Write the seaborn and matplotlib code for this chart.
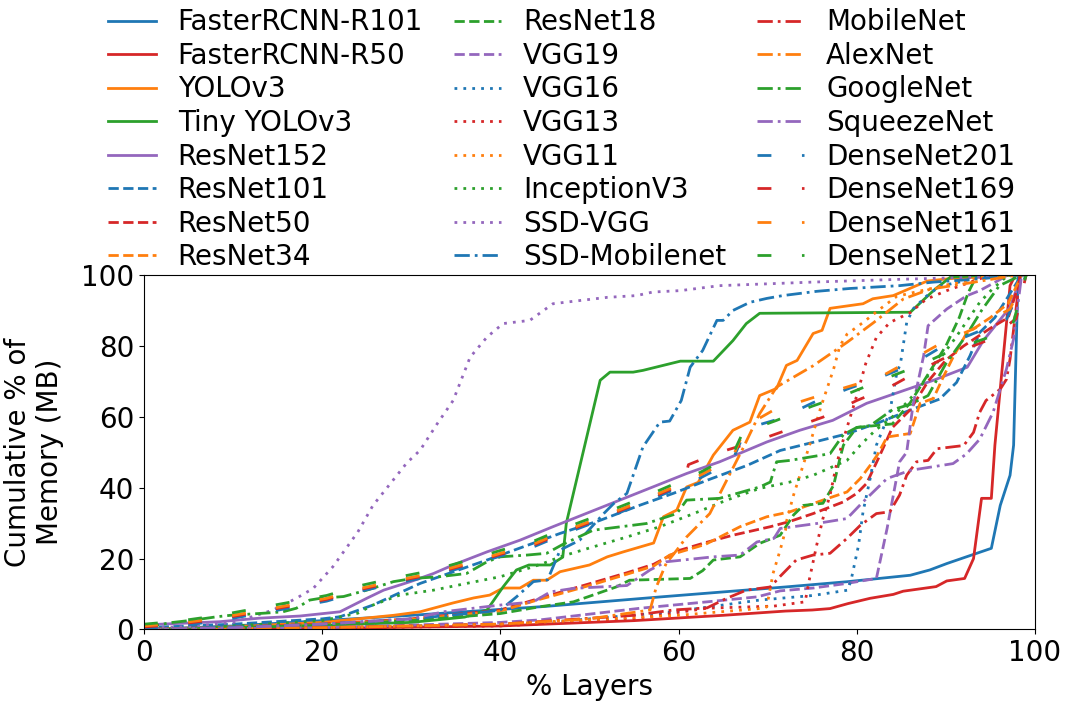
import matplotlib
matplotlib.use("Agg")
import matplotlib.pyplot as plt
import pandas as pd
import seaborn as sns

# ---------------- data (x = % layers, y = cumulative % of memory) ----------------
models = ["FasterRCNN-R101", "FasterRCNN-R50", "YOLOv3", "Tiny YOLOv3", "ResNet152",
          "ResNet101", "ResNet50", "ResNet34", "ResNet18", "VGG19",
          "VGG16", "VGG13", "VGG11", "InceptionV3", "SSD-VGG",
          "SSD-Mobilenet", "MobileNet", "AlexNet", "GoogleNet", "SqueezeNet",
          "DenseNet201", "DenseNet169", "DenseNet161", "DenseNet121"]

frcnn_r101 = [(0, 0), (10, 1), (20, 2.5), (30, 4), (45, 6.5), (58, 9.2), (72, 12), (79, 13.5),
              (86, 15.3), (88.2, 16.8), (90.1, 18.6), (92.3, 20.5), (95.1, 22.9), (96.1, 35),
              (97.2, 43.5), (97.6, 52), (98.1, 100)]
frcnn_r50 = [(0, 0), (20, 0.3), (40, 1), (55, 2.5), (65, 4), (72, 5.2), (75, 5.5), (77, 5.9),
             (79, 7.3), (81.5, 8.8), (84.1, 9.9), (85.2, 10.8), (88.9, 12.1), (90.1, 13.7),
             (92.1, 14.4), (93.1, 20), (94, 37), (95.1, 37), (95.5, 52), (97.2, 97), (97.8, 100)]
yolov3 = [(0, 0), (10, 0.8), (20, 2), (28, 4), (31, 5), (34.7, 7.5), (37, 8.9), (38.8, 9.7),
          (40.3, 11.7), (42.2, 11.7), (43.7, 13.9), (45.2, 13.9), (46.7, 16.3), (50, 18.2),
          (52, 20.5), (53.8, 21.9), (55.7, 23.3), (57.2, 24.4), (58.3, 31.8), (59.8, 33.7),
          (60.9, 40.2), (62.2, 41.5), (63.9, 49.2), (66.1, 56.2), (68, 58.5), (69.1, 66),
          (71, 68), (72.1, 74.5), (73.3, 75.9), (75.1, 83.5), (76.1, 84.4), (77, 90.6),
          (80.7, 91.9), (81.8, 93.3), (84.1, 94.2), (87.9, 98.3), (90.5, 99), (98, 100)]
tiny_yolov3 = [(0, 0), (10, 0.5), (20, 1.2), (30, 2), (36, 3.5), (38.5, 5.5), (40.3, 12),
               (41.8, 16.8), (43.2, 18.2), (45.6, 18.2), (47, 20.4), (47.4, 30), (51.2, 70.3),
               (52.3, 72.6), (54.9, 72.6), (56, 73.1), (60.2, 75.7), (63.9, 75.7), (66.1, 81.5),
               (67.6, 86.3), (69.1, 89.2), (86, 89.5), (88.6, 95.6), (90.5, 99.4), (95, 100),
               (99, 100)]
resnet152 = [(0, 1.3), (8.5, 2.2), (13, 3.2), (17.5, 3.8), (22, 5), (25, 8.8), (26.9, 11.1),
             (29.9, 13.5), (32.5, 15.8), (34.7, 18.2), (38.5, 21.9), (42.2, 25.2), (45.9, 29),
             (49.7, 32.8), (53.4, 36.5), (57.1, 40.2), (60.9, 44), (64.6, 47.3), (69.9, 52.9),
             (73.6, 56.2), (77.3, 59), (81.1, 63.8), (84.8, 67), (88.6, 70.3), (92.4, 74),
             (94.2, 81.5), (97.2, 90.9), (98.5, 100)]
resnet101 = [(0, 0.5), (10, 1.5), (20, 3), (22, 3.6), (25.7, 6.9), (31, 13), (38.5, 19.6),
             (46.7, 27.1), (51.2, 30.8), (55.7, 35.1), (59.4, 38.4), (63.2, 42.1), (67.7, 46.3),
             (71.4, 50.5), (75.1, 52.8), (78.9, 55.2), (82.6, 58.5), (86.3, 62.2), (89.3, 65),
             (91.2, 69.7), (92.7, 77.2), (93.8, 83.8), (95.5, 88), (98.5, 100)]
resnet50 = [(0, 0), (10, 0.7), (20, 1.5), (30, 3), (40, 5.5), (44.4, 8.8), (46.3, 10.2),
            (50.4, 13.2), (54.2, 16), (57.2, 18.4), (60.2, 22.4), (63, 24.5), (66.1, 26.6),
            (70.3, 29), (72.5, 30.5), (75.1, 32.7), (78.5, 36), (80, 38.4), (81.1, 41.2),
            (82.6, 49.2), (84, 57), (86, 62), (88, 70), (90, 76), (92, 80), (95, 85), (97, 88),
            (98.5, 100)]
resnet34 = [(0, 0), (10, 0.6), (20, 1.3), (30, 2.8), (40, 5.2), (44.4, 8.5), (46.3, 9.8),
            (50.4, 12.7), (54.2, 15.6), (57.2, 17.9), (59, 21), (63, 24), (66.9, 29),
            (69.9, 31.8), (72.5, 33.2), (76.2, 36.5), (78.9, 38.8), (80.4, 42.6), (81.5, 46.3),
            (82.3, 49.2), (83.4, 54.3), (86, 55.3), (87.1, 63.8), (88.6, 65.2), (89.7, 71.2),
            (90.8, 76.8), (92.3, 83.5), (95, 88), (97, 92), (98.5, 100)]
resnet18 = [(0, 0), (10, 0.5), (20, 1.2), (30, 2.5), (40, 4.5), (44.4, 6.4), (48.2, 7.8),
            (53, 12), (54.5, 13.9), (61.3, 14.4), (62.7, 16.6), (63.9, 19.6), (66.9, 20.5),
            (69.1, 24.3), (71.4, 26.6), (72.9, 32.3), (74, 35), (76.2, 35.6), (77.4, 40.7),
            (78.1, 48.2), (78.5, 52), (80, 57), (84, 58), (86, 64), (88, 72), (90, 80),
            (91.5, 88), (92.5, 95), (93.5, 100), (99, 100)]
vgg19 = [(0, 0), (20, 0.5), (40, 2), (44.4, 2.7), (55.7, 6), (63.2, 7.8), (68.8, 9.2),
         (71.4, 10.9), (75.1, 11.7), (78.9, 13), (82.2, 14.4), (83.4, 28.5), (84.1, 37.9),
         (84.8, 47.3), (85.6, 50), (86.3, 63.2), (87.5, 77.2), (88, 85.7), (90.1, 90.4),
         (92.3, 94.1), (93.8, 95.6), (97, 100)]
vgg16 = [(0, 0), (20, 0.5), (40, 1.5), (44.4, 1.8), (59.4, 5), (69.1, 8.3), (71.4, 8.8),
         (75.1, 9.6), (79, 11.1), (79.4, 14.4), (80.2, 23.8), (80.7, 33.2), (81.5, 42.6),
         (82.2, 52), (83.7, 61.3), (84.5, 72.5), (84.9, 75), (85.6, 86.6), (86.3, 90.4),
         (87.8, 94), (89.3, 96.8), (95, 100)]
vgg13 = [(0, 0), (20, 0.4), (40, 1), (55, 3), (63.2, 6), (70.7, 6.6), (74.2, 7.8), (74.7, 14.4),
         (75.5, 23.8), (76.2, 31.3), (77, 37.9), (77.7, 46.3), (78.3, 52), (80, 66), (81, 75),
         (82.2, 82.4), (83.7, 86.6), (86, 89.4), (87.8, 93.2), (90.1, 95.6), (95, 100)]
vgg11 = [(0, 0), (20, 0.5), (40, 1.5), (60, 4), (69.5, 6), (69.9, 6.4), (70.6, 15.8),
         (71.4, 22.4), (72, 28), (72.1, 30.4), (72.9, 37.9), (74.7, 52), (76, 63), (77.4, 73.5),
         (78.1, 80), (78.9, 83.3), (80.7, 86.6), (82.6, 90.4), (84.5, 94), (95, 100)]
inception_v3 = [(0, 0), (10, 1), (20, 2.5), (24, 4.6), (25.7, 6.9), (28.7, 9.7), (32.5, 11.1),
                (36.2, 13), (40, 14.9), (43.7, 17.7), (45.3, 19.1), (46.7, 20.5), (50.4, 23.3),
                (54.2, 26.1), (57.9, 29), (61.7, 32.7), (65.4, 36.5), (69.1, 39.8), (72.5, 41.6),
                (75.1, 43.5), (78.9, 47.7), (80.4, 52), (82, 56), (84, 60), (85.6, 64), (87, 68),
                (89.3, 76.3), (91, 82), (93.8, 92.3), (95.2, 96), (97, 100)]
ssd_vgg = [(0, 0.5), (5, 0.8), (10, 2), (12, 3.5), (14.5, 5.5), (17.1, 8.8), (19, 11.6),
           (21.2, 17.7), (24, 27.5), (25.7, 35), (29.5, 47), (31, 50.6), (32.9, 58), (34.7, 64.6),
           (36.6, 76.8), (38.5, 82.5), (40.3, 86.3), (43.3, 87.2), (45.9, 91.9), (48.9, 92.8),
           (52, 93.7), (55.3, 94.2), (57.1, 95.2), (60.2, 95.6), (64.6, 97), (75, 98),
           (85, 98.8), (95, 99.5), (99, 100)]
ssd_mobilenet = [(0, 0), (10, 0.7), (20, 1.5), (30, 3), (38.5, 5), (40, 5.5), (41.8, 9.2),
                 (43.7, 13.5), (45.3, 14), (46.7, 22.4), (48.9, 25.2), (51.6, 32.7), (52.7, 35.5),
                 (54.2, 38.4), (56, 51.5), (57.9, 58.5), (59, 58.8), (60.3, 64.6), (61.3, 74),
                 (62.7, 78.7), (64.3, 87.2), (65, 87.2), (66.1, 90), (68, 92.3), (69.9, 93.4),
                 (71.7, 94.2), (75.5, 95.4), (79.2, 96.2), (84.8, 97), (88.6, 98), (94.2, 99),
                 (98, 100)]
mobilenet = [(0, 0), (20, 0.5), (40, 1.5), (55, 4), (59.4, 5.5), (63.2, 6.1), (65.4, 8.8),
             (67.6, 11.1), (70.3, 12), (71.4, 15), (73.2, 19.6), (75.1, 21), (77, 21.5),
             (78.9, 25.7), (80.4, 29.4), (82.2, 32.7), (83.7, 33.2), (84.8, 37.9), (85.6, 43.5),
             (86.7, 47.3), (88, 47.7), (89, 51), (92, 51.9), (93.1, 55.6), (93.8, 61.3),
             (94.5, 64.6), (96.1, 67.8), (96.8, 70.6), (97.2, 76.3), (97.9, 91), (98.3, 100)]
alexnet = [(0, 0), (20, 0.5), (40, 1.5), (50, 3), (56.8, 5.5), (57.5, 12), (58.6, 18.6),
           (59.8, 22.4), (60.9, 26.1), (63.5, 32.7), (65.4, 42.1), (67.3, 51.5), (69.1, 60.9),
           (71, 68.4), (75.1, 74.4), (78.9, 81), (81.9, 86.6), (85.2, 93.2), (88.2, 96),
           (92, 97.5), (98, 100)]
googlenet = [(0, 0.5), (2.9, 1.9), (5.7, 2.7), (8.2, 3.6), (9.7, 4), (14.1, 4.7), (15.6, 5),
             (17.1, 6), (18.6, 8.3), (19.8, 8.8), (22.4, 9.3), (25, 11.1), (28, 13.5),
             (30.2, 14.4), (33.2, 14.9), (36.2, 15.8), (38.5, 19.1), (40, 20.5), (43, 21),
             (45.2, 21.5), (47, 24), (50.4, 28), (56.4, 29.9), (59.8, 32.7), (60.9, 36.5),
             (64.6, 37), (69.1, 40.2), (70.3, 41.6), (71, 47.3), (72.5, 47.7), (77, 49.6),
             (78.5, 55), (80, 57), (81.5, 57.5), (84, 62), (86, 63.5), (88, 66), (90, 75),
             (92.3, 83), (94, 90), (96, 97), (98.5, 100)]
squeezenet = [(0, 0), (10, 0.5), (20, 1.5), (30, 3), (33.6, 5), (40, 6.9), (43.7, 7.8),
              (45.6, 10.6), (48.2, 11.6), (54.2, 12.4), (56.8, 16.8), (58.6, 19.1), (63.9, 20.5),
              (66.9, 21), (68.8, 24.7), (70.7, 25.7), (71.4, 28.5), (75.5, 29.9), (78.9, 31.3),
              (80.7, 36), (83.4, 42.6), (86, 44.9), (90.8, 46.8), (92.3, 49.5), (93.8, 53.7),
              (95.3, 61.3), (96.1, 67.8), (96.8, 73.5), (97.6, 82), (98.5, 100)]
densenet201 = [(0, 0.3), (4, 1), (8.2, 2.4), (12.3, 4.2), (16.4, 6.1), (20.5, 8), (24.3, 10.8),
               (28.4, 13.1), (32.2, 15), (36.2, 17.8), (40, 20.7), (43.9, 23.5), (47.4, 27.2),
               (51.4, 31), (55.1, 34.7), (58.8, 38.7), (62.4, 42.7), (66, 47.4), (67.6, 56.7),
               (71.4, 59.5), (75.1, 64), (78.9, 67.8), (82.6, 71.1), (86.3, 74.9), (89.7, 80),
               (93.4, 83.8), (96.8, 87.5), (99, 100)]
densenet169 = [(0, 0.7), (4, 1.5), (8.2, 2.9), (12.3, 4.7), (16.4, 6.6), (20.5, 8.5),
               (24.3, 11.3), (28.4, 13.6), (32.2, 15.5), (36.2, 18.3), (40, 21.2), (43.9, 24),
               (47.4, 27.7), (51.4, 31.5), (55.1, 35.2), (58.8, 39.2), (60.6, 41.2), (61.1, 46.5),
               (64.6, 50), (68.4, 52.9), (72.1, 56.2), (76.2, 59.9), (80, 64.6), (83.7, 68.4),
               (87.1, 73.1), (90.8, 77.8), (94.6, 81.5), (97.9, 87.7), (99, 100)]
densenet161 = [(0, 1), (4, 1.8), (8.2, 3.2), (12.3, 5), (16.4, 6.9), (20.5, 8.8), (24.3, 11.6),
               (28.4, 13.9), (32.2, 15.8), (36.2, 18.6), (40, 21.5), (43.9, 24.3), (47.4, 28),
               (51.4, 31.8), (55.1, 35.5), (58.8, 39.5), (62.4, 43.5), (66, 48.2), (67.6, 57.5),
               (70.6, 61.8), (74.7, 65.1), (78.9, 68.4), (82.6, 71.2), (86, 75.9), (89.7, 81.1),
               (93.1, 84.8), (97.2, 90.4), (99, 100)]
densenet121 = [(0, 1.5), (4, 2.4), (8.2, 3.9), (12.3, 5.8), (16.4, 7.7), (20.5, 9.6),
               (24.3, 12.4), (28.4, 14.7), (32.2, 16.6), (36.2, 19.4), (40, 22.3), (43.9, 25.1),
               (47.4, 28.8), (51.4, 32.6), (55.1, 36.3), (58.8, 40.3), (62.4, 44.3), (66, 49),
               (67.2, 55.5), (71, 59), (75, 63), (79, 66.5), (83, 70.6), (87, 74.5), (90.5, 78.6),
               (95.8, 83.3), (97.5, 86), (99, 100)]

series = [frcnn_r101, frcnn_r50, yolov3, tiny_yolov3, resnet152,
          resnet101, resnet50, resnet34, resnet18, vgg19,
          vgg16, vgg13, vgg11, inception_v3, ssd_vgg,
          ssd_mobilenet, mobilenet, alexnet, googlenet, squeezenet,
          densenet201, densenet169, densenet161, densenet121]

x_ticks = [0, 20, 40, 60, 80, 100]
y_ticks = [0, 20, 40, 60, 80, 100]

rows = []
for name, pts in zip(models, series):
    for x, y in pts:
        rows.append((name, x, y))
df = pd.DataFrame(rows, columns=["model", "layers", "memory"])

# ---------------- style ----------------
colors = ["#1f77b4", "#d62728", "#ff7f0e", "#2ca02c", "#9467bd"]
styles = ["-", (0, (3.7, 1.6)), (0, (1, 2.2)), (0, (5.5, 1.8, 1, 1.8)), (0, (5, 11))]
FS = 20

fig, ax = plt.subplots(figsize=(10.68, 7.05), dpi=100)
fig.subplots_adjust(left=0.1348, right=0.9691, top=0.6099, bottom=0.1071)

for i, name in enumerate(models):
    sub = df[df["model"] == name]
    sns.lineplot(data=sub, x="layers", y="memory", ax=ax, color=colors[i % 5],
                 linestyle=styles[i // 5], linewidth=2, label=name,
                 estimator=None, sort=False)

ax.set_xlim(0, 100)
ax.set_ylim(0, 100)
ax.set_xticks(x_ticks)
ax.set_yticks(y_ticks)
ax.tick_params(labelsize=FS)
ax.set_xlabel("% Layers", fontsize=FS, labelpad=4)
ax.set_ylabel("Cumulative % of\nMemory (MB)", fontsize=FS, labelpad=12)

handles, labels = ax.get_legend_handles_labels()
ax.get_legend().remove()
fig.legend(handles, labels, ncol=3, loc="upper left", bbox_to_anchor=(0.091, 1.004),
           frameon=False, fontsize=FS, handlelength=1.7, columnspacing=1.1,
           labelspacing=0.2, handletextpad=0.8, borderaxespad=0)

fig.savefig("out.png", dpi=100)
